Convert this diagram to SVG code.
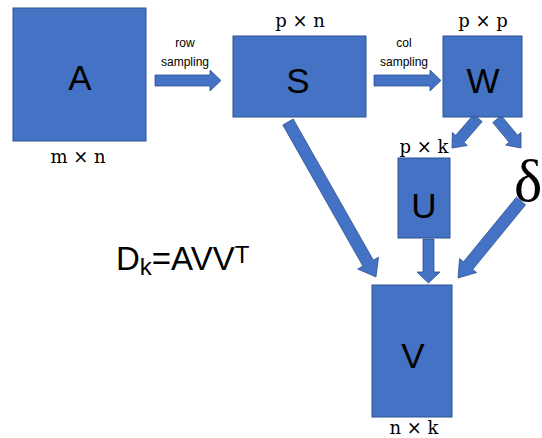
<svg xmlns="http://www.w3.org/2000/svg" width="542" height="438" viewBox="0 0 542 438">
<style>
.box{fill:#4472C4;stroke:#2F528F;stroke-width:1}
.arr{fill:#4472C4;stroke:#2F528F;stroke-width:0.8;stroke-linejoin:miter}
.lbl{font-family:"Liberation Sans",Arial,sans-serif;font-size:35px;fill:#000;text-anchor:middle}
.dim{font-family:"DejaVu Serif","Liberation Serif",serif;font-size:18px;fill:#000;text-anchor:middle}
.small{font-family:"Liberation Sans",Arial,sans-serif;font-size:12px;fill:#000;text-anchor:middle}
</style>
<rect width="542" height="438" fill="#fff"/>
<g id="connectors">
<polygon class="arr" points="155,75 210,75 210,70 221,80.5 210,91 210,86 155,86"/>
<polygon class="arr" points="374,75 430,75 430,70 441,80.5 430,91 430,86 374,86"/>
<polygon class="arr" points="293.2,119 373.3,260.1 378.5,257.2 376,277 357.7,269 362.9,266.1 282.8,125"/>
<polygon class="arr" points="423,239 434,239 434,272 440,272 428.5,283 417,272 423,272"/>
<polygon class="arr" points="525.6,204.8 472.7,269.4 476.6,272.6 458,278 459.6,258.6 463.5,261.8 516.4,197.2"/>
<polygon class="arr" points="482.2,121.6 464,142.5 467.4,145.5 452,148 452.3,132.4 455.7,135.3 473.8,114.4"/>
<polygon class="arr" points="501.2,115.5 517.5,135.2 521,132.4 521,148 505.6,145.1 509.1,142.3 492.8,122.5"/>
<text class="small" x="185" y="47">row</text>
<text class="small" x="185" y="66">sampling</text>
<text class="small" x="404" y="47">col</text>
<text class="small" x="404" y="66">sampling</text>
</g>
<g id="node-A">
<rect class="box" x="13" y="8" width="133" height="133"/>
<text class="lbl" x="80" y="90">A</text>
<text class="dim" x="78" y="163">m × n</text>
</g>
<g id="node-S">
<rect class="box" x="233" y="36" width="133" height="81"/>
<text class="lbl" x="298" y="93">S</text>
<text class="dim" x="300" y="27">p × n</text>
</g>
<g id="node-W">
<rect class="box" x="443" y="36" width="79" height="81"/>
<text class="lbl" x="483" y="93">W</text>
<text class="dim" x="483" y="27">p × p</text>
</g>
<g id="node-U">
<rect class="box" x="398" y="158" width="52" height="80"/>
<text class="lbl" x="424" y="218">U</text>
<text class="dim" x="424" y="153">p × k</text>
</g>
<g id="node-V">
<rect class="box" x="372" y="285" width="80" height="132"/>
<text class="lbl" x="413" y="368">V</text>
<text class="dim" x="414" y="434">n × k</text>
</g>
<g id="node-delta">
<text x="514" y="201" style="font-family:'Liberation Serif','Times New Roman',serif;font-size:60px;fill:#000">δ</text>
</g>
<g id="formula">
<text x="116" y="270" style="font-family:'Liberation Sans',Arial,sans-serif;font-size:33px;fill:#000">D<tspan font-size="24" dy="5">k</tspan><tspan dy="-5">=AVV</tspan><tspan font-size="24" dy="-7">T</tspan></text>
</g>
</svg>
